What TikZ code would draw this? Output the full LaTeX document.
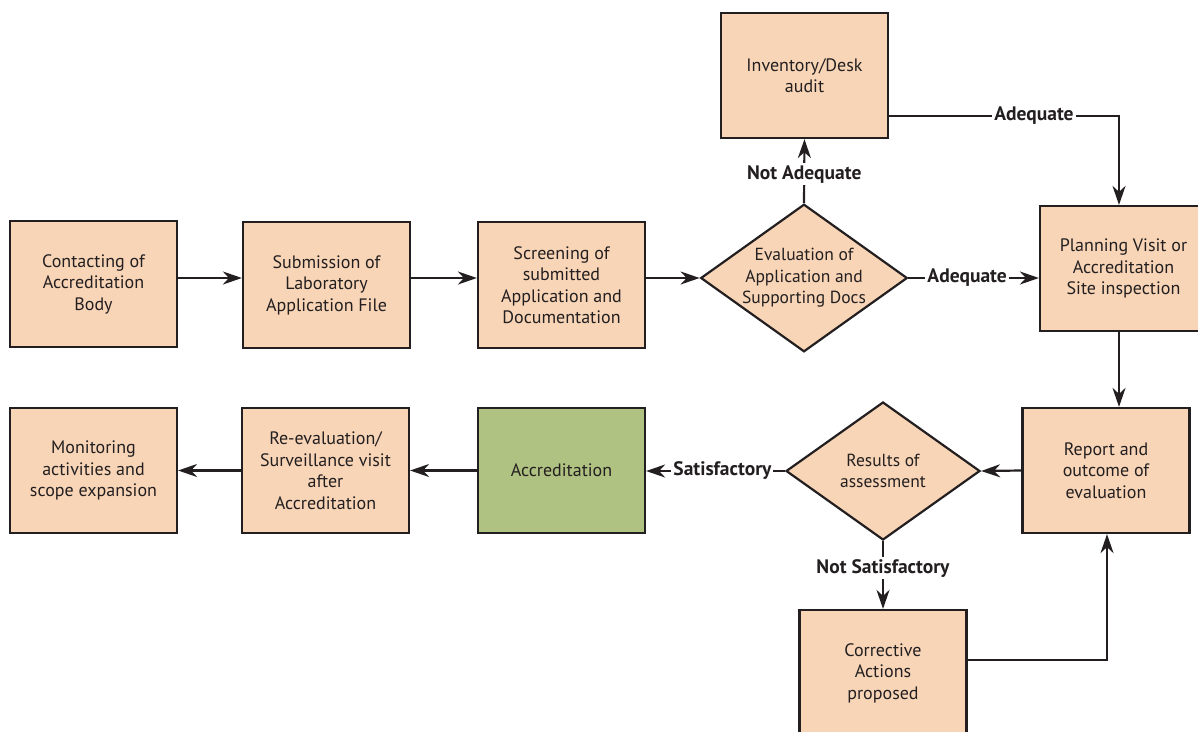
\documentclass[tikz,border=0pt]{standalone}
\usepackage{fontspec}
\setmainfont{PT Sans}
\usetikzlibrary{arrows.meta,shapes.geometric}
\definecolor{peach}{HTML}{F8D5B7}
\definecolor{leaf}{HTML}{B0C281}
\definecolor{ink}{HTML}{231F20}
\tikzset{
  every picture/.style={x=1pt,y=-1pt},
  box/.style={draw=ink,line width=2.2pt,fill=peach,minimum width=167pt,minimum height=126pt,align=center,inner sep=2pt,font=\fontsize{18}{21.5}\selectfont,text=ink},
  greenbox/.style={box,fill=leaf},
  dia/.style={draw=ink,line width=2.2pt,fill=peach,diamond,aspect=1.4,align=center,inner sep=0pt,font=\fontsize{17.5}{21.5}\selectfont,text=ink},
  conn/.style={draw=ink,line width=2.2pt,-{Stealth[length=19pt,width=13pt,inset=6pt]}},
  lab/.style={fill=white,inner sep=2pt,font=\bfseries\fontsize{19.5}{21}\selectfont,text=ink}
}
\begin{document}
\begin{tikzpicture}
\useasboundingbox (0,0) rectangle (1198,731);
\node[box] (contact) at (93.5,284) {Contacting of\\Accreditation\\Body};
\node[box] (submit) at (326.5,285) {Submission of\\Laboratory\\Application File};
\node[box] (screen) at (561.5,285) {Screening of\\submitted\\Application and\\Documentation};
\node[dia,minimum width=204pt,minimum height=145pt] (eval) at (804,278) {Evaluation of\\Application and\\Supporting Docs};
\node[box,minimum height=125pt] (inv) at (804.5,75.5) {Inventory/Desk\\audit};
\node[box,minimum height=125pt] (plan) at (1123.5,268.5) {Planning Visit or\\Accreditation\\Site inspection};
\node[box,minimum height=125pt] (report) at (1106,470.5) {Report and\\outcome of\\evaluation};
\node[dia,minimum width=194pt,minimum height=138pt] (res) at (883,471) {Results of\\assessment};
\node[greenbox,minimum height=125pt] (accr) at (561.5,470.5) {Accreditation};
\node[box,minimum height=125pt] (reeval) at (325.5,470.5) {Re-evaluation/\\Surveillance visit\\after\\Accreditation};
\node[box,minimum height=125pt] (monit) at (93.5,470.5) {Monitoring\\activities and\\scope expansion};
\node[box,minimum height=126pt] (corr) at (883,673) {Corrective\\Actions\\proposed};
\coordinate (invcorner) at (1119,116);
\coordinate (corrcorner) at (1107,660);

\draw[conn] (contact.east |- 0,278) -- (submit.west |- 0,278);
\draw[conn] (submit.east |- 0,278) -- (screen.west |- 0,278);
\draw[conn] (screen.east |- eval.west) -- (eval.west);
\draw[conn] (eval.east) -- node[lab,pos=0.45]{Adequate} (plan.west |- eval.east);
\draw[conn] (eval.north) -- node[lab,pos=0.45]{Not Adequate} (inv.south);
\draw[conn] (inv.east |- invcorner) -- node[lab,pos=0.63]{Adequate} (invcorner) -- (invcorner |- plan.north);
\draw[conn] (invcorner |- plan.south) -- (invcorner |- report.north);
\draw[conn] (report.west) -- (res.east);
\draw[conn] (res.west) -- node[lab,pos=0.45]{Satisfactory} (accr.east |- res.west);
\draw[conn] (accr.west) -- (reeval.east);
\draw[conn] (reeval.west) -- (monit.east);
\draw[conn] (res.south) -- node[lab,pos=0.4]{Not Satisfactory} (corr.north);
\draw[conn] (corr.east |- corrcorner) -- (corrcorner) -- (corrcorner |- report.south);
\end{tikzpicture}
\end{document}
